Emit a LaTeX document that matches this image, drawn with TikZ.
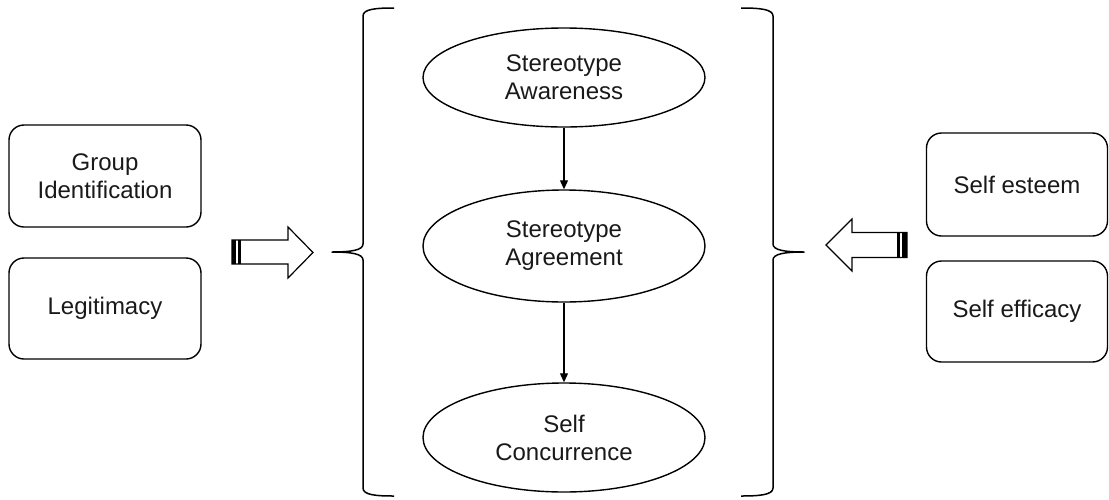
\documentclass[tikz,border=0pt]{standalone}
\usepackage{fontspec}
\setmainfont{Liberation Sans}
\usetikzlibrary{shapes.geometric,arrows.meta}
\begin{document}
\begin{tikzpicture}[x=1pt,y=-1pt,
  every node/.style={font=\fontsize{24}{28}\selectfont, align=center, text=black!90},
  factor/.style={draw, line width=1.4pt, rounded corners=15pt, inner sep=0pt},
  stage/.style={draw, ellipse, line width=1.4pt, inner sep=0pt, minimum width=282pt},
  flow/.style={line width=1.1pt, -{Triangle[length=9pt,width=8pt]}},
  bracket/.style={line width=1.5pt, line join=round},
  blockarrow/.style={draw, line width=1.2pt, fill=white, line join=miter}]
\useasboundingbox (0,0) rectangle (1109,499);

% left factors
\node[factor, minimum width=192pt, minimum height=102pt] (gid) at (105,176) {Group\\Identification};
\node[factor, minimum width=192pt, minimum height=101pt] (leg) at (105,308.5) {Legitimacy};

% right factors
\node[factor, minimum width=181pt, minimum height=103pt] (est) at (1017,184.5) {Self esteem};
\node[factor, minimum width=181pt, minimum height=101pt] (eff) at (1017,311.5) {Self efficacy};

% central chain
\node[stage, minimum height=99pt] (aw) at (564,77.5) {Stereotype\\Awareness};
\node[stage, minimum height=112pt] (ag) at (564,246) {Stereotype\\Agreement};
\node[stage, minimum height=109pt] (sc) at (564,437.5) {Self\\Concurrence};
\draw[flow] (aw) -- (ag);
\draw[flow] (ag) -- (sc);

% left brace
\draw[bracket] (394,8) .. controls (376,8) and (363,9) .. (363,16)
  -- (363,244) .. controls (363,250) and (352,252) .. (332,252)
  .. controls (352,252) and (363,254) .. (363,260)
  -- (363,488) .. controls (363,495) and (376,496) .. (394,496);

% right brace
\draw[bracket] (741,8) .. controls (759,8) and (773,9) .. (773,16)
  -- (773,244) .. controls (773,250) and (784,252) .. (804,252)
  .. controls (784,252) and (773,254) .. (773,260)
  -- (773,488) .. controls (773,495) and (759,496) .. (741,496);

% left block arrow
\draw[blockarrow] (232,240) -- (288,240) -- (288,227) -- (313,252.5)
  -- (288,278) -- (288,264) -- (232,264) -- cycle;
\fill (232,240) rectangle (236,264);
\fill (238,240) rectangle (241,264);

% right block arrow
\draw[blockarrow] (907,232.5) -- (852,232.5) -- (852,219) -- (826,245)
  -- (852,271) -- (852,257.5) -- (907,257.5) -- cycle;
\fill (907,232.5) rectangle (902,257.5);
\fill (900,232.5) rectangle (897,257.5);
\end{tikzpicture}
\end{document}
